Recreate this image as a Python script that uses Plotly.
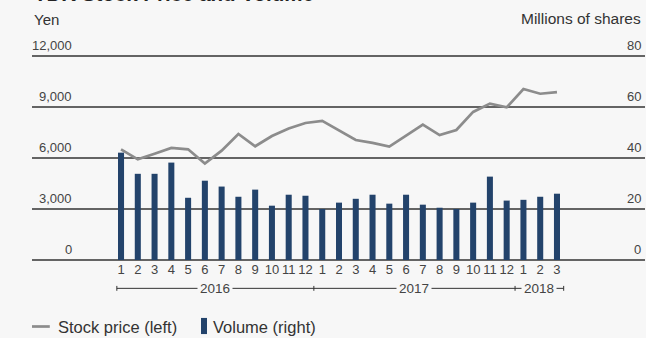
import plotly.graph_objects as go

# Monthly data, Jan 2016 - Mar 2018
months = ["1", "2", "3", "4", "5", "6", "7", "8", "9", "10", "11", "12",
          "1", "2", "3", "4", "5", "6", "7", "8", "9", "10", "11", "12",
          "1", "2", "3"]
years = ["2016", "2017", "2018"]
stock_price = [6510, 5920, 6250, 6590, 6510, 5670, 6430, 7410, 6690, 7290, 7730, 8060,
               8180, 7630, 7060, 6890, 6670, 7310, 7960, 7350, 7650, 8710, 9200, 8980,
               10060, 9780, 9880]
volume = [42.1, 33.8, 33.8, 38.2, 24.4, 31.1, 28.8, 24.8, 27.6, 21.3, 25.6, 25.2,
          20.0, 22.5, 24.0, 25.6, 22.1, 25.6, 21.7, 20.5, 20.0, 22.5, 32.7, 23.3,
          23.6, 24.8, 26.0]
price_ticks = [0, 3000, 6000, 9000, 12000]
volume_ticks = [0, 20, 40, 60, 80]

BG = "#f7f7f7"
NAVY = "#23436b"
GRAY_LINE = "#8c8c8c"
TEXT = "#444444"
FONT = "Liberation Sans, Arial, sans-serif"

x = list(range(len(months)))

fig = go.Figure()
fig.add_trace(go.Bar(x=x, y=volume, yaxis="y2", marker_color=NAVY,
                     marker_line_width=0, width=0.36, name="Volume (right)"))
fig.add_trace(go.Scatter(x=x, y=stock_price, mode="lines",
                         line=dict(color=GRAY_LINE, width=2.7), name="Stock price (left)"))

shapes = []
annotations = []

# Horizontal grid lines across the full plot width
for v in price_ticks:
    shapes.append(dict(type="line", xref="paper", yref="paper", x0=0, x1=1,
                       y0=v / price_ticks[-1], y1=v / price_ticks[-1],
                       line=dict(color="#333333", width=1.3), layer="below"))
    annotations.append(dict(xref="paper", yref="paper", x=0.068, y=v / price_ticks[-1],
                            xanchor="right", yanchor="bottom", yshift=1, showarrow=False,
                            text=f"{v:,}", font=dict(family=FONT, size=13, color=TEXT)))
for v in volume_ticks:
    annotations.append(dict(xref="paper", yref="paper", x=0.997, y=v / volume_ticks[-1],
                            xanchor="right", yanchor="bottom", yshift=1, showarrow=False,
                            text=str(v), font=dict(family=FONT, size=13, color=TEXT)))

# Axis unit captions
annotations.append(dict(xref="paper", yref="paper", x=0.0, y=1.177, xanchor="left",
                        yanchor="middle", showarrow=False, text="Yen",
                        font=dict(family=FONT, size=15, color="#333333")))
annotations.append(dict(xref="paper", yref="paper", x=0.997, y=1.182, xanchor="right",
                        yanchor="middle", showarrow=False, text="Millions of shares",
                        font=dict(family=FONT, size=15.5, color="#333333")))

# Title (sits at the top edge of the canvas)
annotations.append(dict(xref="paper", yref="paper", x=0.0, y=1.238, xanchor="left",
                        yanchor="bottom", showarrow=False, text="<b>TDK Stock Price and Volume</b>",
                        font=dict(family=FONT, size=20.5, color="#222222")))

# Year bracket row under the month labels
year_y = -0.139
year_spans = [(-0.25, 11.5), (11.5, 23.5), (23.5, 26.4)]
shapes.append(dict(type="line", xref="x", yref="paper", x0=year_spans[0][0],
                   x1=year_spans[-1][1], y0=year_y, y1=year_y,
                   line=dict(color="#333333", width=1)))
for xv in [year_spans[0][0]] + [s[1] for s in year_spans]:
    shapes.append(dict(type="line", xref="x", yref="paper", x0=xv, x1=xv,
                       y0=year_y - 0.012, y1=year_y + 0.012,
                       line=dict(color="#333333", width=1)))
for (a, b), yr in zip(year_spans, years):
    annotations.append(dict(xref="x", yref="paper", x=(a + b) / 2, y=year_y,
                            xanchor="center", yanchor="middle", showarrow=False,
                            text=yr, bgcolor=BG, borderpad=2,
                            font=dict(family=FONT, size=13.5, color=TEXT)))

# Legend
leg_y = -0.326
shapes.append(dict(type="line", xref="paper", yref="paper", x0=0.0, x1=0.029,
                   y0=leg_y, y1=leg_y, line=dict(color=GRAY_LINE, width=2.7)))
annotations.append(dict(xref="paper", yref="paper", x=0.039, y=leg_y, xanchor="left",
                        yanchor="middle", showarrow=False, text="Stock price (left)",
                        font=dict(family=FONT, size=16.5, color="#333333")))
shapes.append(dict(type="rect", xref="paper", yref="paper", x0=0.2757, x1=0.2855,
                   y0=leg_y - 0.037, y1=leg_y + 0.042, fillcolor=NAVY, line_width=0))
annotations.append(dict(xref="paper", yref="paper", x=0.2915, y=leg_y, xanchor="left",
                        yanchor="middle", showarrow=False, text="Volume (right)",
                        font=dict(family=FONT, size=16.5, color="#333333")))

fig.update_layout(
    width=646, height=338,
    margin=dict(l=32, r=1, t=56, b=78),
    paper_bgcolor=BG, plot_bgcolor=BG,
    showlegend=False,
    shapes=shapes, annotations=annotations,
    xaxis=dict(range=[-5.31, 31.25], tickmode="array", tickvals=x, ticktext=months,
               showgrid=False, zeroline=False, showline=False, ticks="",
               tickfont=dict(family=FONT, size=13, color=TEXT)),
    yaxis=dict(range=[0, 12000], showgrid=False, zeroline=False, showticklabels=False),
    yaxis2=dict(range=[0, 80], overlaying="y", side="right", showgrid=False,
                zeroline=False, showticklabels=False),
)

fig.write_html("out.html")
